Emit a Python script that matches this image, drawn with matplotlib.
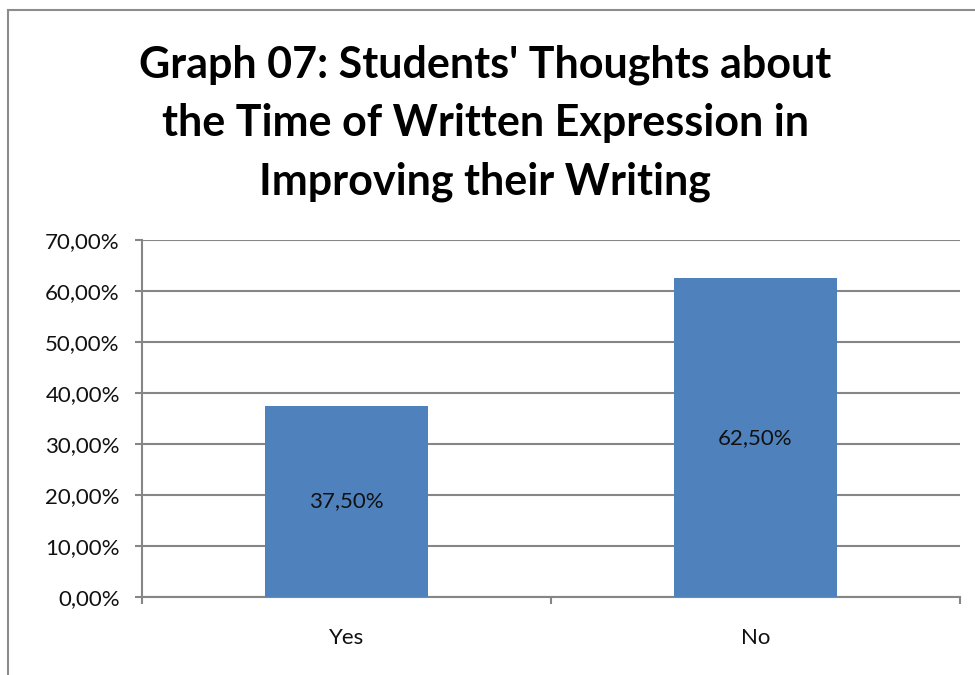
import matplotlib.pyplot as plt
from matplotlib.patches import Rectangle
from matplotlib.ticker import FuncFormatter

categories = ['Yes', 'No']
percentages = [37.5, 62.5]
y_ticks = [0, 10, 20, 30, 40, 50, 60, 70]

plt.rcParams['font.family'] = ['Lato', 'DejaVu Sans']

W, H = 975, 675
fig = plt.figure(figsize=(W / 100, H / 100), dpi=100)

# chart frame, cut off by the right and bottom edges
fig.patches.append(Rectangle((8 / W, -0.1), 1.2, 1 - 10 / H + 0.1,
                             transform=fig.transFigure, fill=False,
                             edgecolor='#8c8c8c', linewidth=1.5))

# plot area in pixel coordinates
left, right, top, bottom = 142, 960, 240, 597
ax = fig.add_axes([left / W, 1 - bottom / H, (right - left) / W, (bottom - top) / H])

x = range(len(categories))
ax.bar(x, percentages, width=0.4, color='#4F81BD', zorder=3)
for xi, val in zip(x, percentages):
    ax.text(xi, val / 2, f'{val:.2f}%'.replace('.', ','), ha='center', va='center',
            fontsize=16, color='#111111', zorder=4)

ax.set_xlim(-0.5, 1.5)
ax.set_ylim(0, 70)
ax.set_yticks(y_ticks)
ax.yaxis.set_major_formatter(FuncFormatter(lambda v, p: f'{v:.2f}%'.replace('.', ',')))
ax.set_xticks([-0.5, 0.5, 1.5], minor=False)
ax.set_xticklabels([])
ax.set_xticks(list(x), minor=True)
ax.set_xticklabels(categories, minor=True)

ax.grid(axis='y', color='#868686', linewidth=1.5, zorder=0)
for side in ['top', 'right']:
    ax.spines[side].set_visible(False)
for side in ['left', 'bottom']:
    ax.spines[side].set_color('#868686')
    ax.spines[side].set_linewidth(1.5)

ax.tick_params(axis='y', which='major', length=5, width=1.5, color='#868686',
               labelsize=16, labelcolor='#111111', pad=11)
ax.tick_params(axis='x', which='major', length=5, width=1.5, color='#868686')
ax.tick_params(axis='x', which='minor', length=0, labelsize=16,
               labelcolor='#111111', pad=22)

fig.text(485 / W, 1 - 123 / H,
         "Graph 07: Students' Thoughts about\nthe Time of Written Expression in\nImproving their Writing",
         ha='center', va='center', fontsize=31, fontweight='bold',
         linespacing=1.56, color='black')

fig.savefig('out.png', dpi=100)
